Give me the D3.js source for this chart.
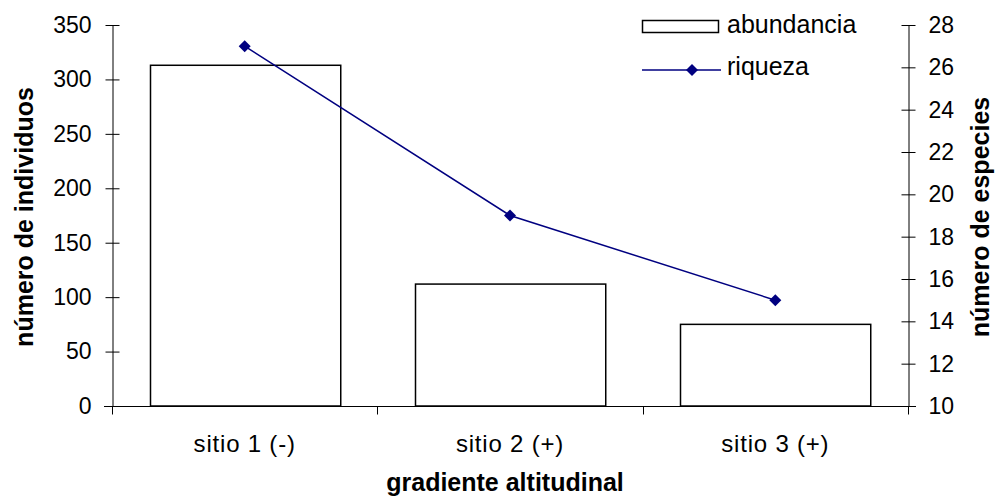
<!DOCTYPE html>
<html><head><meta charset="utf-8">
<script src="https://cdn.jsdelivr.net/npm/d3@7"></script>
<style>body{margin:0;background:#fff}svg{display:block;font-family:"Liberation Sans",Arial,sans-serif}</style>
</head><body>
<svg id="c" width="996" height="497"></svg>
<script>
const categories = ["sitio 1 (-)", "sitio 2 (+)", "sitio 3 (+)"];
const abundancia = [313, 112, 75];
const riqueza = [27, 19, 15];
const leftTicks = [0, 50, 100, 150, 200, 250, 300, 350];
const rightTicks = [10, 12, 14, 16, 18, 20, 22, 24, 26, 28];

const svg = d3.select("#c");
const FF = "Liberation Sans, Arial, sans-serif";
const L = 112, R = 908, T = 25, B = 406;
const x = d3.scaleBand().domain(categories).range([L, R]).paddingInner(0.283).paddingOuter(0.1415);
const yL = d3.scaleLinear().domain([0, 350]).range([B, T]);
const yR = d3.scaleLinear().domain([10, 28]).range([B, T]);

// bars
svg.append("g").selectAll("rect").data(categories).join("rect")
  .attr("x", d => Math.round(x(d)) + 0.5)
  .attr("y", (d, i) => yL(abundancia[i]))
  .attr("width", x.bandwidth())
  .attr("height", (d, i) => B - yL(abundancia[i]))
  .attr("fill", "#fff").attr("stroke", "#000").attr("stroke-width", 1.5);

// left axis
const gl = svg.append("g").attr("transform", `translate(${L + 0.5},0)`)
  .call(d3.axisLeft(yL).tickValues(leftTicks).tickSize(0).tickPadding(21));
gl.select(".domain").attr("stroke", "#000");
gl.selectAll(".tick line").attr("x1", -7).attr("x2", 7).attr("stroke", "#000");
gl.selectAll("text").attr("font-size", 23).attr("fill", "#000").attr("font-family", FF);

// right axis
const gr = svg.append("g").attr("transform", `translate(${R + 0.5},0)`)
  .call(d3.axisRight(yR).tickValues(rightTicks).tickSize(0).tickPadding(20));
gr.select(".domain").attr("stroke", "#000");
gr.selectAll(".tick line").attr("x1", -7).attr("x2", 7).attr("stroke", "#000");
gr.selectAll("text").attr("font-size", 23).attr("fill", "#000").attr("font-family", FF);

// x axis
const gx = svg.append("g").attr("transform", `translate(0,${B + 0.5})`);
gx.append("line").attr("x1", L - 8).attr("x2", R + 8).attr("stroke", "#000");
const bounds = [L, L + x.step(), L + 2 * x.step(), R];
gx.selectAll("line.t").data(bounds).join("line").attr("class", "t")
  .attr("x1", d => Math.round(d) + 0.5).attr("x2", d => Math.round(d) + 0.5)
  .attr("y1", 0).attr("y2", 8).attr("stroke", "#000");
gx.selectAll("text").data(categories).join("text")
  .attr("x", d => x(d) + x.bandwidth() / 2).attr("y", 45.5)
  .attr("text-anchor", "middle").attr("font-size", 24).attr("letter-spacing", 0.8).text(d => d);

// line series
const cx = d => x(d) + x.bandwidth() / 2;
const marker = d3.symbol(d3.symbolSquare, 72)();
svg.append("path").datum(categories)
  .attr("d", d3.line().x(d => cx(d)).y((d, i) => yR(riqueza[i])))
  .attr("fill", "none").attr("stroke", "#000080").attr("stroke-width", 1.5);
svg.append("g").selectAll("path").data(categories).join("path")
  .attr("d", marker)
  .attr("transform", (d, i) => `translate(${cx(d)},${yR(riqueza[i])}) rotate(45)`)
  .attr("fill", "#000080");

// axis titles
svg.append("text").attr("transform", `translate(33,217) rotate(-90)`)
  .attr("text-anchor", "middle").attr("font-size", 25).attr("font-weight", "bold").text("número de individuos");
svg.append("text").attr("transform", `translate(989,217) rotate(-90)`)
  .attr("text-anchor", "middle").attr("font-size", 25).attr("font-weight", "bold").text("número de especies");
svg.append("text").attr("x", 505).attr("y", 491)
  .attr("text-anchor", "middle").attr("font-size", 25).attr("font-weight", "bold").text("gradiente altitudinal");

// legend
const lg = svg.append("g");
lg.append("rect").attr("x", 642.5).attr("y", 20.5).attr("width", 76).attr("height", 12)
  .attr("fill", "#fff").attr("stroke", "#000").attr("stroke-width", 1.5);
lg.append("text").attr("x", 727).attr("y", 33).attr("font-size", 25).text("abundancia");
lg.append("line").attr("x1", 642).attr("x2", 721).attr("y1", 70).attr("y2", 70)
  .attr("stroke", "#000080").attr("stroke-width", 1.5);
lg.append("path").attr("d", marker)
  .attr("transform", "translate(692,70) rotate(45)").attr("fill", "#000080");
lg.append("text").attr("x", 727).attr("y", 75).attr("font-size", 25).text("riqueza");
</script>
</body></html>
